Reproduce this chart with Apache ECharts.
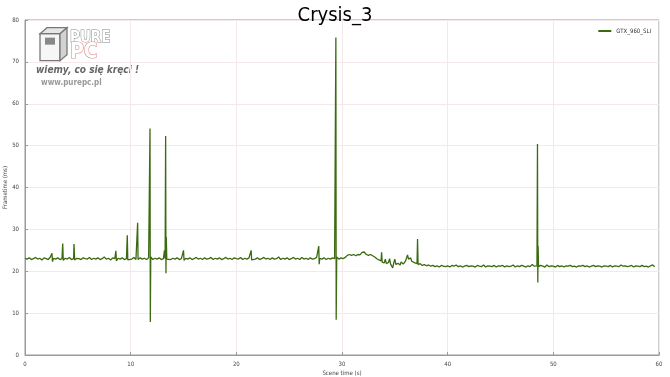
<!DOCTYPE html>
<html>
<head>
<meta charset="utf-8">
<script src="https://cdn.jsdelivr.net/npm/echarts@6/dist/echarts.min.js"></script>
<style>
  html, body { margin: 0; padding: 0; background: #fff; }
  #show_picture { width: 670px; height: 377px; }
</style>
</head>
<body>
<div id="show_picture"></div>
<script>
// scene time (s) and frametime (ms)
const frameTime = [
  0, 0.2, 0.4, 0.6, 0.8, 1.0, 1.2, 1.4, 1.6, 1.8, 2.0, 2.2, 2.4,
  2.55, 2.6, 2.7, 2.9, 3.1, 3.3, 3.5, 3.57, 3.62, 3.8, 4.0, 4.2, 4.4, 4.6, 4.64, 4.7, 4.9,
  5.1, 5.3, 5.5, 5.7, 5.9, 6.1, 6.3, 6.5, 6.7, 6.9, 7.1, 7.3, 7.5, 7.7, 7.9,
  8.1, 8.3, 8.5, 8.6, 8.65, 8.8, 9.0, 9.2, 9.4, 9.6, 9.68, 9.73, 9.9,
  10.1, 10.3, 10.5, 10.62, 10.66, 10.7, 10.9, 11.1, 11.3, 11.5, 11.7, 11.8, 11.83, 11.86, 11.9,
  12.1, 12.3, 12.5, 12.7, 12.9, 13.1, 13.2, 13.26, 13.31, 13.34, 13.37, 13.42, 13.6, 13.8,
  14.0, 14.2, 14.4, 14.6, 14.8, 15.0, 15.05, 15.2, 15.4, 15.6, 15.8,
  16.0, 16.2, 16.4, 16.6, 16.8, 17.0, 17.2, 17.4, 17.6, 17.8,
  18.0, 18.2, 18.4, 18.6, 18.8, 19.0, 19.2, 19.4, 19.6, 19.8,
  20.0, 20.2, 20.4, 20.6, 20.8, 21.0, 21.2, 21.4, 21.45, 21.6, 21.8,
  22.0, 22.2, 22.4, 22.6, 22.8, 23.0, 23.2, 23.4, 23.6, 23.8,
  24.0, 24.2, 24.4, 24.6, 24.8, 25.0, 25.2, 25.4, 25.6, 25.8,
  26.0, 26.2, 26.4, 26.6, 26.8, 27.0, 27.2, 27.4, 27.6, 27.75, 27.8, 27.84, 27.9,
  28.1, 28.3, 28.5, 28.7, 28.9, 29.1, 29.3, 29.4, 29.42, 29.45, 29.5, 29.7, 29.9,
  30.1, 30.3, 30.5, 30.7, 30.9, 31.1, 31.3, 31.5, 31.7, 31.9, 32.0, 32.1, 32.3, 32.5, 32.7, 32.9,
  33.1, 33.3, 33.5, 33.7, 33.75, 33.8, 34.0, 34.1, 34.2, 34.4, 34.5, 34.6, 34.8, 34.9,
  35.0, 35.1, 35.3, 35.5, 35.6, 35.8, 36.0, 36.1, 36.2, 36.3, 36.5, 36.6, 36.7, 36.9,
  37.1, 37.15, 37.2, 37.4, 37.6, 37.8, 38.0, 38.2, 38.4, 38.6, 38.8,
  39.0, 39.2, 39.4, 39.6, 39.8, 40.0, 40.2, 40.4, 40.6, 40.8,
  41.0, 41.2, 41.4, 41.6, 41.8, 42.0, 42.2, 42.4, 42.6, 42.8,
  43.0, 43.2, 43.4, 43.6, 43.8, 44.0, 44.2, 44.4, 44.6, 44.8,
  45.0, 45.2, 45.4, 45.6, 45.8, 46.0, 46.2, 46.4, 46.6, 46.8,
  47.0, 47.2, 47.4, 47.6, 47.8, 48.0, 48.2, 48.45, 48.5, 48.53, 48.56, 48.6, 48.8,
  49.0, 49.2, 49.4, 49.6, 49.8, 50.0, 50.2, 50.4, 50.6, 50.8,
  51.0, 51.2, 51.4, 51.6, 51.8, 52.0, 52.2, 52.4, 52.6, 52.8,
  53.0, 53.2, 53.4, 53.6, 53.8, 54.0, 54.2, 54.4, 54.6, 54.8,
  55.0, 55.2, 55.4, 55.6, 55.8, 56.0, 56.2, 56.4, 56.6, 56.8,
  57.0, 57.2, 57.4, 57.6, 57.8, 58.0, 58.2, 58.4, 58.6, 58.8,
  59.0, 59.2, 59.4, 59.6
];
const frameMs = [
  23.1, 22.9, 23.2, 22.8, 23.0, 23.3, 22.9, 23.1, 22.7, 23.2, 23.0, 22.8, 23.4,
  24.3, 22.3, 23.1, 22.9, 23.2, 22.8, 23.0, 26.6, 22.6, 23.1, 22.9, 23.3, 22.8, 23.0, 26.5, 22.7, 23.1,
  23.0, 22.8, 23.2, 23.0, 22.9, 23.3, 22.8, 23.1, 22.9, 23.2, 22.8, 23.0, 23.4, 22.9, 23.1,
  22.7, 23.2, 23.0, 24.9, 22.5, 23.1, 22.9, 23.2, 22.8, 23.0, 28.6, 22.7, 23.1,
  22.9, 23.3, 22.8, 23.0, 31.6, 22.8, 23.2, 22.9, 23.1, 22.8, 23.2, 23.0, 54.1, 7.9, 23.4,
  22.8, 23.1, 22.9, 23.2, 22.8, 23.0, 25.0, 23.0, 52.3, 19.5, 28.2, 22.9, 23.3, 22.8,
  23.1, 22.9, 23.2, 22.8, 23.0, 25.0, 22.6, 23.1, 22.9, 23.2, 22.8,
  23.0, 23.3, 22.9, 23.1, 22.8, 23.2, 22.9, 23.0, 23.3, 22.8,
  23.1, 22.9, 23.2, 22.8, 23.0, 23.3, 22.9, 23.1, 22.8, 23.2,
  23.0, 22.9, 23.3, 22.8, 23.1, 22.9, 23.2, 25.0, 22.7, 23.1, 22.9,
  23.2, 22.8, 23.0, 23.3, 22.9, 23.1, 22.8, 23.2, 22.9, 23.0,
  23.4, 22.8, 23.1, 22.9, 23.2, 22.8, 23.0, 23.3, 22.9, 23.1,
  22.8, 23.3, 22.9, 23.1, 22.8, 23.2, 22.9, 23.0, 23.3, 23.0, 26.0, 21.7, 23.1,
  22.9, 23.2, 22.8, 23.1, 22.9, 23.2, 23.0, 23.3, 75.8, 8.4, 23.4, 22.9, 23.2,
  23.0, 23.3, 23.8, 24.0, 23.8, 24.0, 23.7, 24.0, 23.9, 24.5, 24.2, 24.6, 24.0, 23.8, 24.0, 23.7,
  23.4, 23.0, 22.7, 22.5, 24.5, 22.2, 22.0, 22.9, 21.8, 22.1, 23.0, 21.7, 20.8, 22.0,
  22.9, 21.6, 21.9, 21.5, 22.2, 21.7, 22.4, 23.1, 23.9, 22.9, 23.2, 22.4, 22.8, 22.0,
  21.8, 27.7, 21.6, 21.8, 21.4, 21.6, 21.3, 21.5, 21.2, 21.4, 21.1,
  21.3, 21.0, 21.4, 21.2, 21.1, 21.3, 21.0, 21.4, 21.2, 21.5,
  21.1, 21.3, 21.0, 21.2, 21.4, 21.1, 21.3, 21.2, 21.0, 21.4,
  21.2, 21.1, 21.5, 21.0, 21.3, 21.2, 21.1, 21.4, 21.0, 21.3,
  21.2, 21.4, 21.0, 21.3, 21.1, 21.2, 21.5, 21.0, 21.3, 21.1,
  21.4, 21.2, 21.0, 21.3, 21.1, 21.6, 21.2, 21.3, 50.4, 17.3, 26.0, 21.1, 21.4,
  21.2, 21.0, 21.5, 21.1, 21.3, 21.2, 21.0, 21.4, 21.1, 21.3,
  21.0, 21.3, 21.2, 21.4, 21.1, 21.2, 21.0, 21.3, 21.2, 21.4,
  21.1, 21.3, 21.0, 21.2, 21.4, 21.1, 21.3, 21.2, 21.0, 21.3,
  21.2, 21.1, 21.4, 21.0, 21.3, 21.2, 21.1, 21.5, 21.2, 21.3,
  21.1, 21.2, 21.4, 21.0, 21.3, 21.2, 21.1, 21.4, 21.1, 21.2,
  21.0, 21.3, 21.5, 21.1
];
const xTicks = [0, 10, 20, 30, 40, 50, 60];
const yTicks = [0, 10, 20, 30, 40, 50, 60, 70, 80];
const seriesName = 'GTX_960_SLI';

let myChart = echarts.init(document.getElementById('show_picture'));

let points = frameTime.map((t, i) => [t, frameMs[i]]);

const labelFont = "'DejaVu Sans Condensed', 'DejaVu Sans', sans-serif";

let option = {
    animation: false,
    backgroundColor: '#fff',
    title: {
        text: 'Crysis_3',
        left: 'center',
        top: 1,
        textStyle: {
            color: '#000',
            fontWeight: 'normal',
            fontSize: 20,
            fontFamily: "'Liberation Sans Narrow', 'DejaVu Sans Condensed', sans-serif"
        }
    },
    legend: {
        right: 14,
        top: 23,
        itemWidth: 13,
        itemHeight: 2,
        itemGap: 4,
        icon: 'rect',
        textStyle: { fontSize: 6, color: '#333', fontFamily: labelFont },
        data: [seriesName]
    },
    grid: {
        left: 25, right: 11, top: 20, bottom: 22,
        outerBoundsMode: 'none',
        containLabel: false,
        show: true,
        borderColor: '#9a9a9a',
        borderWidth: 1
    },
    xAxis: {
        type: 'value',
        min: xTicks[0],
        max: xTicks[xTicks.length - 1],
        interval: 10,
        name: 'Scene time (s)',
        nameLocation: 'middle',
        nameGap: 15,
        nameMoveOverlap: false,
        nameTextStyle: { fontSize: 6, color: '#444', fontFamily: labelFont },
        axisLine: { lineStyle: { color: '#9a9a9a' } },
        axisTick: { inside: true, length: 3, lineStyle: { color: '#9a9a9a' } },
        axisLabel: { fontSize: 6, color: '#444', margin: 6, fontFamily: labelFont },
        splitLine: { lineStyle: { color: '#f3e9eb' } }
    },
    yAxis: {
        type: 'value',
        min: yTicks[0],
        max: yTicks[yTicks.length - 1],
        interval: 10,
        name: 'Frametime (ms)',
        nameLocation: 'middle',
        nameGap: 17,
        nameMoveOverlap: false,
        nameTextStyle: { fontSize: 6, color: '#444', fontFamily: labelFont },
        axisLine: { show: true, lineStyle: { color: '#9a9a9a' } },
        axisTick: { show: true, inside: true, length: 3, lineStyle: { color: '#9a9a9a' } },
        axisLabel: { fontSize: 6, color: '#444', margin: 6, fontFamily: labelFont },
        splitLine: { lineStyle: { color: '#f3e9eb' } }
    },
    graphic: [
        // PurePC watermark
        {
            type: 'group', left: 36, top: 27, z: 100,
            children: [
                { type: 'rect', shape: { x: 4, y: 8, width: 20, height: 27 }, style: { fill: '#f6f6f6', stroke: '#777', lineWidth: 1.3 } },
                { type: 'polygon', shape: { points: [[4, 8], [11, 2], [31, 2], [24, 8]] }, style: { fill: '#e6e6e6', stroke: '#777', lineWidth: 1.3 } },
                { type: 'polygon', shape: { points: [[24, 8], [31, 2], [31, 29], [24, 35]] }, style: { fill: '#d2d2d2', stroke: '#777', lineWidth: 1.3 } },
                { type: 'rect', shape: { x: 9, y: 12, width: 10, height: 7 }, style: { fill: '#888' } },
                { type: 'text', x: 34, y: 5, style: { text: 'PURE', fontSize: 15, fontWeight: 'bold', fill: '#fff', stroke: '#888', lineWidth: 1, fontFamily: labelFont } },
                { type: 'text', x: 34, y: 16, style: { text: 'PC', fontSize: 21, fontWeight: 'bold', fill: '#fff', stroke: '#e08a8a', lineWidth: 1.2, fontFamily: labelFont } },
                { type: 'text', x: 0, y: 40, style: { text: 'wiemy, co się kręci !', fontSize: 10, fontWeight: 'bold', fontStyle: 'italic', fill: '#666', fontFamily: labelFont } },
                { type: 'text', x: 5, y: 53, style: { text: 'www.purepc.pl', fontSize: 8, fontWeight: 'bold', fill: '#999', fontFamily: labelFont } }
            ]
        }
    ],
    series: [
        {
            name: seriesName,
            type: 'line',
            data: points,
            showSymbol: false,
            symbol: 'none',
            color: '#3b6a10',
            lineStyle: { width: 1.3, color: '#3b6a10' }
        }
    ]
};

option && myChart.setOption(option);
</script>
</body>
</html>
